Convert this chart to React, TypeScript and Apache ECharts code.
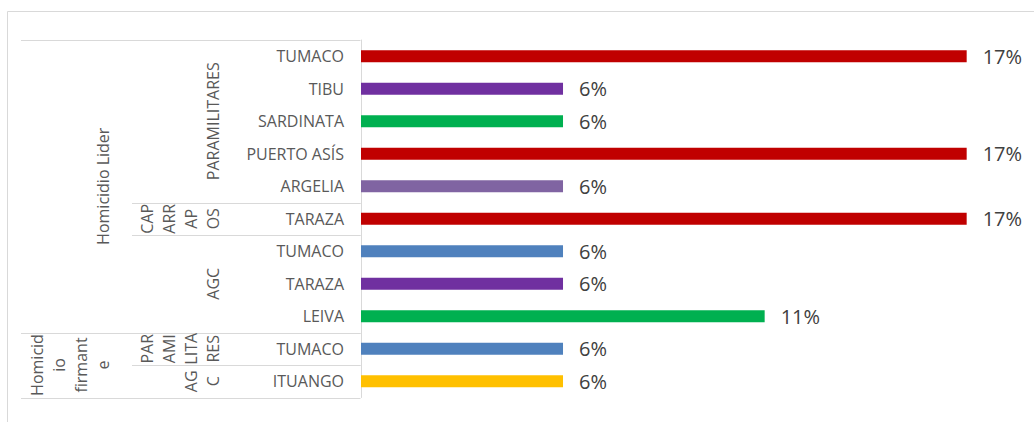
import React, { useEffect, useRef } from "react";
import * as echarts from "echarts";

// Innermost category level (municipalities), top to bottom
const cities = [
  "TUMACO", "TIBU", "SARDINATA", "PUERTO ASÍS", "ARGELIA",
  "TARAZA", "TUMACO", "TARAZA", "LEIVA", "TUMACO", "ITUANGO",
];
// Share of cases (displayed rounded to whole percent)
const shares = [0.1667, 0.0556, 0.0556, 0.1667, 0.0556, 0.1667, 0.0556, 0.0556, 0.1111, 0.0556, 0.0556];
const barColors = [
  "#C00000", "#7030A0", "#00B050", "#C00000", "#8064A2",
  "#C00000", "#4F81BD", "#7030A0", "#00B050", "#4F81BD", "#FFC000",
];

// Second category level (armed group): label lines as wrapped in the cell, first/last row index
const groupLabels = [["PARAMILITARES"], ["CAP", "ARR", "AP", "OS"], ["AGC"], ["PAR", "AMI", "LITA", "RES"], ["AG", "C"]];
const groupSpans = [[0, 4], [5, 5], [6, 8], [9, 9], [10, 10]];

// Third category level (type of homicide)
const typeLabels = [["Homicidio Lider"], ["Homicid", "io", "firmant", "e"]];
const typeSpans = [[0, 8], [9, 10]];

const FONT = "'Open Sans', 'Noto Sans', sans-serif";
const LINE = "#D9D9D9";
const TXT = "#595959";

export default function App() {
  const ref = useRef<HTMLDivElement>(null);

  useEffect(() => {
    if (!ref.current) return;
    const chart = echarts.init(ref.current, undefined, { renderer: "svg" });
    chart.setOption({
      animation: false,
      grid: { left: 361, right: 19, top: 40, bottom: 24.5, containLabel: false },
      xAxis: {
        type: "value",
        min: 0,
        max: 0.18,
        axisLine: { show: false },
        axisTick: { show: false },
        axisLabel: { show: false },
        splitLine: { show: false },
      },
      yAxis: {
        type: "category",
        inverse: true,
        data: cities.map((_, i) => String(i)),
        axisLine: { show: true, lineStyle: { color: LINE, width: 1 } },
        axisTick: { show: false },
        axisLabel: {
          formatter: (v: string) => cities[Number(v)],
          color: TXT,
          fontSize: 16,
          fontFamily: FONT,
          margin: 17,
        },
      },
      series: [
        {
          type: "bar",
          barWidth: 12,
          data: shares.map((v, i) => ({ value: v, itemStyle: { color: barColors[i] } })),
          label: {
            show: true,
            position: "right",
            distance: 16,
            formatter: (p: any) => Math.round(p.value * 100) + "%",
            fontSize: 20,
            fontFamily: FONT,
            color: "#404040",
          },
        },
      ],
    });

    const yOf = (i: number) => chart.convertToPixel({ yAxisIndex: 0 }, i) as number;
    const step = yOf(1) - yOf(0);
    const top = (i: number) => yOf(i) - step / 2;
    const bottom = (i: number) => yOf(i) + step / 2;

    const lv3Left = 21;
    const lv2Left = 132;
    const axisX = 360.5;
    const graphics: any[] = [];

    // outer chart frame
    graphics.push({
      type: "rect",
      shape: { x: 7.5, y: 11.5, width: 1060, height: 440 },
      style: { fill: "none", stroke: LINE, lineWidth: 1 },
      silent: true,
    });

    const hline = (y: number, x1: number, x2: number) => {
      const yy = Math.round(y) + 0.5;
      graphics.push({
        type: "line",
        shape: { x1, y1: yy, x2, y2: yy },
        style: { stroke: LINE, lineWidth: 1 },
        silent: true,
      });
    };

    const rotText = (lines: string[], xRight: number, yc: number) => {
      graphics.push({
        type: "text",
        x: xRight,
        y: yc,
        rotation: Math.PI / 2,
        style: {
          text: lines.join("\n"),
          fill: TXT,
          font: `16px ${FONT}`,
          lineHeight: 22,
          align: "center",
          verticalAlign: "bottom",
        },
        silent: true,
      });
    };

    groupSpans.forEach(([s, e], gi) => {
      hline(top(s), lv2Left, axisX);
      hline(bottom(e), lv2Left, axisX);
      rotText(groupLabels[gi], 224, (top(s) + bottom(e)) / 2);
    });
    typeSpans.forEach(([s, e], ti) => {
      hline(top(s), lv3Left, lv2Left);
      hline(bottom(e), lv3Left, lv2Left);
      rotText(typeLabels[ti], 114, (top(s) + bottom(e)) / 2);
    });

    chart.setOption({ graphic: graphics });

    return () => chart.dispose();
  }, []);

  return (
    <div
      ref={ref}
      style={{ position: "fixed", left: 0, top: 0, width: 1034, height: 422, background: "#fff" }}
    />
  );
}
